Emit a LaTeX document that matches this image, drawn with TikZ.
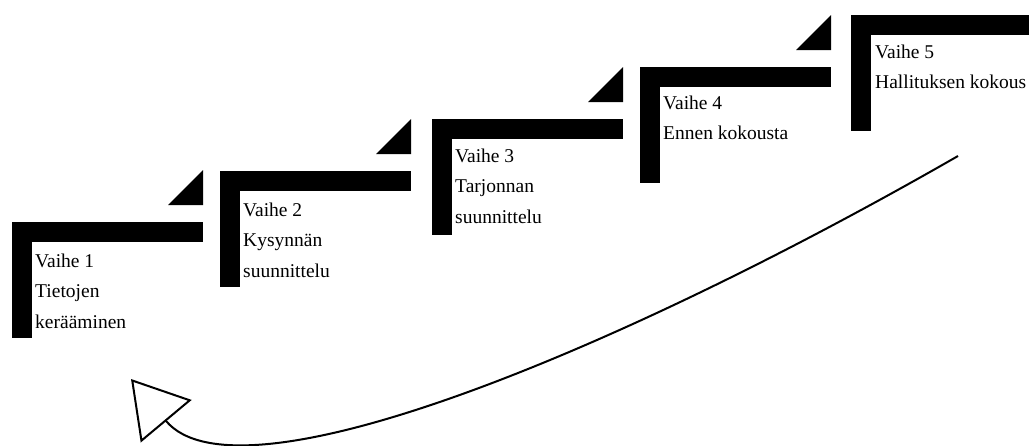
\documentclass[tikz,border=0pt]{standalone}
\usepackage{fontspec}
\setmainfont{Liberation Serif}
\usetikzlibrary{arrows.meta}

% one step: bar and post, wedge above the bar end; (#1,#2) = top left corner
\newcommand{\porras}[2]{
  \fill (#1,#2) rectangle ++(191,20);
  \fill (#1,#2) rectangle ++(20,116);
  \fill (#1+191,#2-52) -- ++(0,35) -- ++(-35,0) -- cycle;
}

\begin{document}
\begin{tikzpicture}[x=1pt,y=-1pt,
    teksti/.style={anchor=base west,inner sep=0pt,font=\fontsize{19.5}{31}\selectfont}]
        \path[use as bounding box,clip] (0,0) rectangle (1029,445);

        \porras{12}{222}
        \porras{220}{171}
        \porras{432}{119}
        \porras{640}{67}
        \porras{851}{15}

        \node[teksti] (v1a) at (35,267) {Vaihe 1};
        \node[teksti] (v1b) at (35,297) {Tietojen};
        \node[teksti] (v1c) at (35,328) {kerääminen};

        \node[teksti] (v2a) at (243,216) {Vaihe 2};
        \node[teksti] (v2b) at (243,246) {Kysynnän};
        \node[teksti] (v2c) at (243,277) {suunnittelu};

        \node[teksti] (v3a) at (455,162) {Vaihe 3};
        \node[teksti] (v3b) at (455,192) {Tarjonnan};
        \node[teksti] (v3c) at (455,223) {suunnittelu};

        \node[teksti] (v4a) at (663,109) {Vaihe 4};
        \node[teksti] (v4b) at (663,139) {Ennen kokousta};

        \node[teksti] (v5a) at (875,58) {Vaihe 5};
        \node[teksti] (v5b) at (875,88) {Hallituksen kokous};

        \coordinate (alku) at (958,156);
        \coordinate (karki) at (131,379);
        \draw[line width=2pt,-{Triangle[open,length=55pt,width=66pt,line width=2pt]}]
          (alku) .. controls (606,358) and (237,506) .. (karki);
      \end{tikzpicture}
\end{document}
